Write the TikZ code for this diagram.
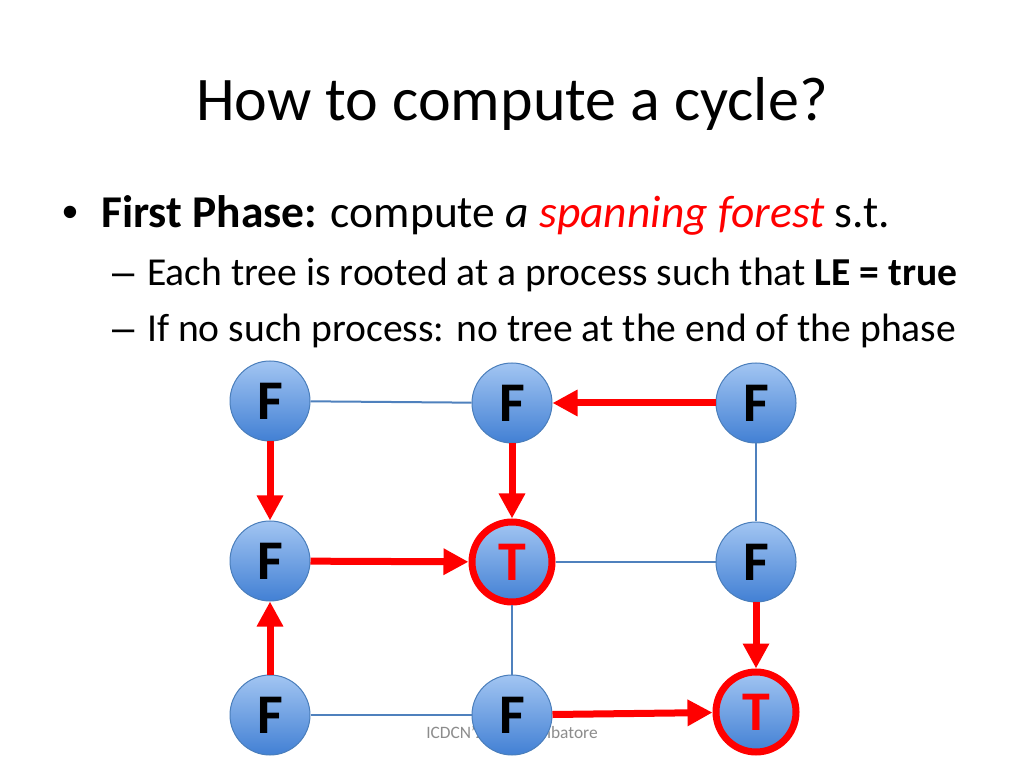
\documentclass[tikz,border=0pt]{standalone}
\usepackage{fontspec}
\setmainfont{Carlito}
\newfontfamily\bulletfont{Liberation Sans}
\usetikzlibrary{arrows.meta}
\definecolor{edgeblue}{RGB}{79,129,189}
\definecolor{topblue}{RGB}{162,197,242}
\definecolor{botblue}{RGB}{66,128,212}
\definecolor{rimblue}{RGB}{74,126,187}
\definecolor{footgray}{RGB}{140,140,140}
\tikzset{
  proc/.style={circle, minimum size=80pt, inner sep=0pt, top color=topblue, bottom color=botblue,
    draw=rimblue, line width=1pt, font=\fontsize{56}{60}\selectfont\bfseries},
  root/.style={proc, draw=red, line width=7pt, text=red},
  plain/.style={draw=edgeblue, line width=2pt},
  tree/.style={draw=red, line width=7pt, -{Triangle[length=25pt,width=25pt]}},
  txt/.style={anchor=base west, inner sep=0pt}
}
\begin{document}
\begin{tikzpicture}[x=1pt,y=1pt]
\useasboundingbox[fill=white] (0,0) rectangle (1024,768);
% title
\node[anchor=base, inner sep=0pt, font=\fontsize{62}{74}\selectfont] (title) at (512,647) {How to compute a cycle?};
% bullets
\node[txt, font=\fontsize{45.5}{54}\selectfont\bulletfont] (b1) at (62,540) {•};
\node[txt, font=\fontsize{45.5}{54}\selectfont] (l1) at (101,540) {\textbf{First Phase:} compute \textit{a} \textcolor{red}{\textit{spanning forest}} s.t.};
\node[txt, font=\fontsize{40}{48}\selectfont\bulletfont] (d2) at (112,482) {–};
\node[txt, font=\fontsize{39.6}{48}\selectfont] (l2) at (147,482) {Each tree is rooted at a process such that \textbf{LE = true}};
\node[txt, font=\fontsize{40}{48}\selectfont\bulletfont] (d3) at (112,426) {–};
\node[txt, font=\fontsize{39.6}{48}\selectfont] (l3) at (147,426) {If no such process: no tree at the end of the phase};
% footer (behind nodes)
\node[anchor=base, inner sep=0pt, text=footgray, font=\fontsize{17.4}{20}\selectfont] (foot) at (512,30) {ICDCN'2014 Coimbatore};
% nodes
\node[proc] (a1) at (270,367) {F};
\node[proc] (a2) at (512,365) {F};
\node[proc] (a3) at (756,365) {F};
\node[proc] (m1) at (270,207) {F};
\node[root] (m2) at (512,206) {T};
\node[proc] (m3) at (756,206) {F};
\node[proc] (c1) at (270,53) {F};
\node[proc] (c2) at (512,53) {F};
\node[root] (c3) at (756,56) {T};
% plain edges
\draw[plain] (a1) -- (a2);
\draw[plain] (a3) -- (m3);
\draw[plain] (m2) -- (m3);
\draw[plain] (m2) -- (c2);
\draw[plain] (c1) -- (c2);
% tree edges
\draw[tree] (a3) -- (a2);
\draw[tree] (a1) -- (m1);
\draw[tree] (a2) -- (m2);
\draw[tree] (m1) -- (m2);
\draw[tree] (m3) -- (c3);
\draw[tree] (c1) -- (m1);
\draw[tree] (c2) -- (c3);
\end{tikzpicture}
\end{document}
